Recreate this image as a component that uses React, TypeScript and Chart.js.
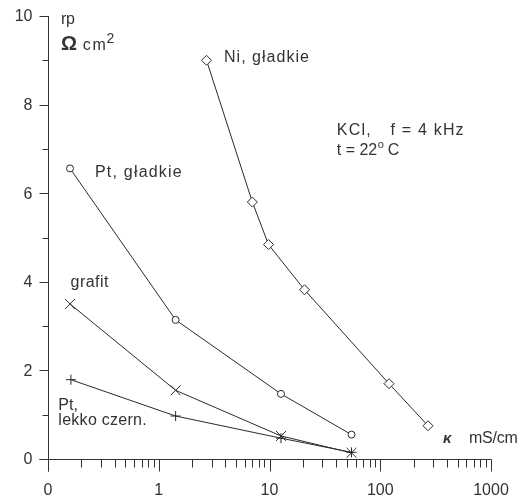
import React, { useEffect, useRef } from "react";
import { Chart, registerables } from "chart.js";

Chart.register(...registerables);

// ---- data ----
const niX = [2.7, 7.0, 9.8, 20.7, 120, 270];
const niY = [9.0, 5.8, 4.84, 3.82, 1.7, 0.75];

const ptX = [0.158, 1.42, 12.7, 55];
const ptY = [6.56, 3.14, 1.47, 0.55];

const grafitX = [0.158, 1.42, 12.7, 55];
const grafitY = [3.5, 1.55, 0.52, 0.14];

const czernX = [0.161, 1.42, 12.7, 55];
const czernY = [1.79, 0.97, 0.47, 0.15];

const yMajorTicks = [0, 2, 4, 6, 8, 10];
const yMinorTicks = [1, 3, 5, 7, 9];
const xMajorTicks = [0.1, 1, 10, 100, 1000];
const xMajorLabels = ["0", "1", "10", "100", "1000"];
const xMinorFactors = [2, 3, 4, 5, 6, 7, 8, 9];

const FONT = "'Liberation Sans', Arial, sans-serif";
const INK = "#333333";
const LINE = "#2a2a2a";

type Note = { t: string; x: number; y: number; w?: number; font?: string };

const notes: Note[] = [
  { t: "rp", x: 0.131, y: 9.83, w: 14 },
  { t: "\u03A9", x: 0.131, y: 9.23, font: `bold 20px ${FONT}` },
  { t: "cm", x: 0.206, y: 9.23, w: 23 },
  { t: "2", x: 0.337, y: 9.39, font: `14px ${FONT}` },
  { t: "Ni, gładkie", x: 3.88, y: 8.96, w: 85 },
  { t: "KCl,", x: 40.5, y: 7.31, w: 34 },
  { t: "f = 4 kHz", x: 124, y: 7.31, w: 73 },
  { t: "t = 22", x: 40.5, y: 6.86 },
  { t: "o", x: 95, y: 7.02, font: `11px ${FONT}` },
  { t: "C", x: 117, y: 6.86 },
  { t: "Pt, gładkie", x: 0.2657, y: 6.37, w: 86.7 },
  { t: "grafit", x: 0.16, y: 3.89, w: 37.7 },
  { t: "Pt,", x: 0.124, y: 1.106 },
  { t: "lekko czern.", x: 0.124, y: 0.767, w: 88.3 },
  { t: "\u03BA", x: 369, y: 0.361, font: `bold italic 15px ${FONT}` },
  { t: "mS/cm", x: 632, y: 0.361, w: 49 },
];

function pts(xs: number[], ys: number[]) {
  return xs.map((x, i) => ({ x, y: ys[i] }));
}

function fitText(ctx: any, text: string, x: number, y: number, w?: number) {
  ctx.letterSpacing = "0px";
  if (w && text.length > 1) {
    const m = ctx.measureText(text).width;
    let ls = (w - m) / (text.length - 1);
    ls = Math.max(-1, Math.min(3, ls));
    ctx.letterSpacing = ls.toFixed(2) + "px";
  }
  ctx.fillText(text, x, y);
  ctx.letterSpacing = "0px";
}

const axesPlugin = {
  id: "customAxes",
  beforeDatasetsDraw(chart: any) {
    const { ctx, chartArea, scales } = chart;
    const xs = scales.x;
    const ys = scales.y;
    const lx = Math.round(chartArea.left) + 0.5;
    const by = Math.round(chartArea.bottom) + 0.5;
    ctx.save();
    ctx.strokeStyle = INK;
    ctx.lineWidth = 1;
    ctx.beginPath();
    ctx.moveTo(lx, Math.round(chartArea.top));
    ctx.lineTo(lx, by + 12);
    ctx.moveTo(lx - 9, by);
    ctx.lineTo(Math.round(chartArea.right) + 0.5, by);
    yMajorTicks.forEach((v) => {
      const p = Math.round(ys.getPixelForValue(v)) + 0.5;
      ctx.moveTo(lx - 9, p);
      ctx.lineTo(lx, p);
    });
    yMinorTicks.forEach((v) => {
      const p = Math.round(ys.getPixelForValue(v)) + 0.5;
      ctx.moveTo(lx - 6, p);
      ctx.lineTo(lx, p);
    });
    xMajorTicks.forEach((v) => {
      const p = Math.round(xs.getPixelForValue(v)) + 0.5;
      ctx.moveTo(p, by);
      ctx.lineTo(p, by + 12);
    });
    xMajorTicks.slice(0, -1).forEach((d) => {
      xMinorFactors.forEach((f) => {
        const p = Math.round(xs.getPixelForValue(d * f)) + 0.5;
        ctx.moveTo(p, by);
        ctx.lineTo(p, by + 8);
      });
    });
    ctx.stroke();

    ctx.fillStyle = INK;
    ctx.font = `16px ${FONT}`;
    ctx.textAlign = "right";
    ctx.textBaseline = "middle";
    yMajorTicks.forEach((v) => {
      const p = ys.getPixelForValue(v);
      ctx.fillText(String(v), lx - 16, p + 1);
    });
    ctx.textAlign = "center";
    ctx.textBaseline = "alphabetic";
    xMajorTicks.forEach((v, i) => {
      const p = xs.getPixelForValue(v);
      ctx.fillText(xMajorLabels[i], p, by + 35.5);
    });
    ctx.restore();
  },
  afterDatasetsDraw(chart: any) {
    const { ctx, scales } = chart;
    ctx.save();
    ctx.fillStyle = INK;
    ctx.textAlign = "left";
    ctx.textBaseline = "alphabetic";
    notes.forEach((n) => {
      ctx.font = n.font || `16px ${FONT}`;
      const px = scales.x.getPixelForValue(n.x);
      const py = scales.y.getPixelForValue(n.y);
      fitText(ctx, n.t, px, py, n.w);
    });
    ctx.restore();
  },
};

export default function App() {
  const ref = useRef<HTMLCanvasElement | null>(null);

  useEffect(() => {
    if (!ref.current) return;
    const common = {
      showLine: true,
      borderColor: LINE,
      borderWidth: 1,
      pointBorderColor: LINE,
      pointBackgroundColor: "#ffffff",
      pointBorderWidth: 1,
      fill: false,
    };
    const chart = new Chart(ref.current, {
      type: "scatter",
      data: {
        datasets: [
          { ...common, label: "Ni, gładkie", data: pts(niX, niY), pointStyle: "rectRot", pointRadius: 5 },
          { ...common, label: "Pt, gładkie", data: pts(ptX, ptY), pointStyle: "circle", pointRadius: 3.5 },
          { ...common, label: "grafit", data: pts(grafitX, grafitY), pointStyle: "crossRot", pointRadius: 7 },
          { ...common, label: "Pt, lekko czern.", data: pts(czernX, czernY), pointStyle: "cross", pointRadius: 5 },
        ],
      },
      options: {
        responsive: false,
        animation: false,
        layout: { padding: { left: 48, right: 34, top: 16, bottom: 40 } },
        scales: {
          x: { type: "logarithmic", min: 0.1, max: 1000, display: false },
          y: { type: "linear", min: 0, max: 10, display: false },
        },
        plugins: { legend: { display: false }, tooltip: { enabled: false } },
      },
      plugins: [axesPlugin],
    } as any);
    return () => chart.destroy();
  }, []);

  return (
    <div style={{ position: "fixed", left: 0, top: 0, width: 525, height: 499, background: "#fff" }}>
      <canvas ref={ref} width={525} height={499} style={{ display: "block" }} />
    </div>
  );
}
